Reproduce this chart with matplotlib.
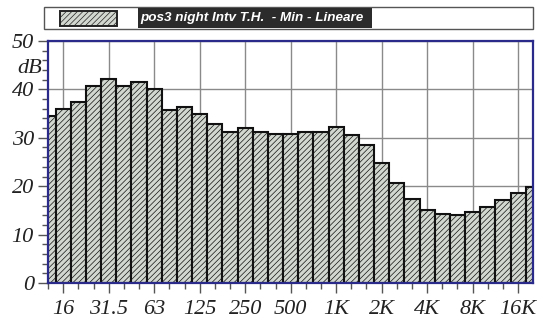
import matplotlib
matplotlib.use("Agg")
import matplotlib.pyplot as plt
from matplotlib.patches import Rectangle
from matplotlib.ticker import FixedLocator, MultipleLocator

bands = ["12.5", "16", "20", "25", "31.5", "40", "50", "63", "80", "100", "125",
         "160", "200", "250", "315", "400", "500", "630", "800", "1K", "1.25K",
         "1.6K", "2K", "2.5K", "3.15K", "4K", "5K", "6.3K", "8K", "10K", "12.5K",
         "16K", "20K"]
levels = [34.5, 36.0, 37.5, 40.8, 42.1, 40.6, 41.5, 40.1, 35.7, 36.3, 34.9,
          32.9, 31.3, 32.0, 31.2, 30.8, 30.8, 31.2, 31.3, 32.3, 30.6,
          28.5, 24.7, 20.6, 17.3, 15.0, 14.3, 14.0, 14.7, 15.7, 17.1,
          18.5, 19.8]
octave_labels = ["16", "31.5", "63", "125", "250", "500", "1K", "2K", "4K", "8K", "16K"]
legend_text = "pos3 night Intv T.H.  - Min - Lineare"

W, H = 539, 323
fig = plt.figure(figsize=(W / 100, H / 100), dpi=100)
fig.patch.set_facecolor("white")
ax = fig.add_axes([47.8 / W, 1 - 283 / H, (532.5 - 47.8) / W, (283 - 41) / H])

fill = "#d2d8cf"
plt.rcParams["hatch.color"] = "#bec4bb"
plt.rcParams["hatch.linewidth"] = 0.5
x = list(range(len(bands)))
ax.bar(x, levels, width=1.0, color=fill, edgecolor="#111111", linewidth=1.5,
       hatch="//////", zorder=3)

ax.set_xlim(-0.02, 31.95)
ax.set_ylim(0, 50)

tick_pos = [bands.index(l) for l in octave_labels]
ax.xaxis.set_major_locator(FixedLocator(tick_pos))
ax.xaxis.set_minor_locator(FixedLocator(x))
ax.set_xticklabels(octave_labels)
ax.yaxis.set_major_locator(MultipleLocator(10))
ax.yaxis.set_minor_locator(MultipleLocator(2))

ax.grid(True, which="major", color="#8a8a8a", linewidth=1.0, zorder=0)
ax.set_axisbelow(True)

for s in ax.spines.values():
    s.set_color("#2a2a8a")
    s.set_linewidth(1.6)
    s.set_zorder(5)

fnt = dict(family="Liberation Serif", style="italic", size=16)
ax.tick_params(axis="both", which="major", direction="out", length=7, width=1,
               color="#555555", labelcolor="#222222")
ax.tick_params(axis="both", which="minor", direction="out", length=4, width=1,
               color="#555555")
ax.tick_params(axis="x", which="major", pad=5)
ax.tick_params(axis="y", which="major", pad=3)
for lab in ax.get_xticklabels() + ax.get_yticklabels():
    lab.set_fontfamily("Liberation Serif")
    lab.set_fontstyle("italic")
    lab.set_fontsize(16)

ax.text(-0.012, 44.3, "dB", transform=ax.get_yaxis_transform(), ha="right",
        va="center", color="#222222", **fnt)

# legend header box
fig.patches.append(Rectangle((44 / W, 1 - 29 / H), (533 - 44) / W, 22 / H,
                             transform=fig.transFigure, facecolor="white",
                             edgecolor="#555555", linewidth=1.0))
fig.patches.append(Rectangle((60 / W, 1 - 26 / H), (117 - 60) / W, 15 / H,
                             transform=fig.transFigure, facecolor=fill,
                             edgecolor="#222222", linewidth=1.4, hatch="//////"))
fig.patches.append(Rectangle((138 / W, 1 - 28 / H), (372 - 138) / W, 20 / H,
                             transform=fig.transFigure, facecolor="#2b2b2b",
                             edgecolor="none"))
fig.text(140 / W, 1 - 18 / H, legend_text, ha="left", va="center",
         color="white", family="Liberation Sans",
         style="italic", weight="bold", size=9.7)

fig.savefig("out.png", dpi=100)
